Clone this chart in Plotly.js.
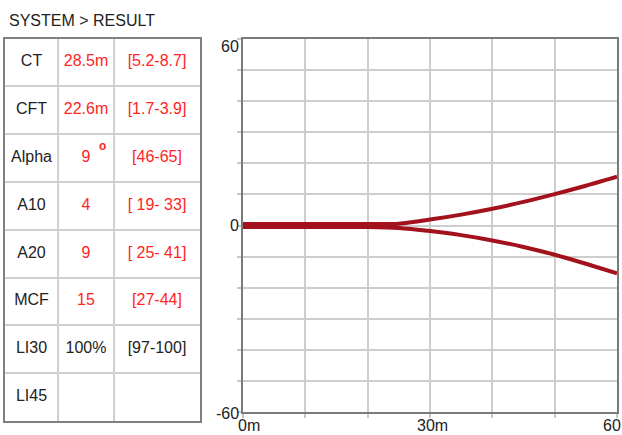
<!DOCTYPE html>
<html><head><meta charset="utf-8">
<script src="https://cdn.plot.ly/plotly-3.0.1.min.js"></script>
<style>html,body{margin:0;padding:0;background:#fff;}#chart{width:622px;height:435px;}</style>
</head><body><div id="chart"></div>
<script>
// ---- data ----
const timeMin  = [0, 5, 10, 15, 20, 25, 30, 35, 40, 45, 50, 55, 60];
const upperAmp = [0.5, 0.5, 0.5, 0.5, 0.5, 0.6, 1.9, 3.5, 5.4, 7.6, 10.1, 12.8, 15.7];
const lowerAmp = [-0.5, -0.5, -0.5, -0.5, -0.5, -0.8, -1.8, -3.1, -4.8, -6.9, -9.4, -12.3, -15.4];

const paramNames  = ['CT', 'CFT', 'Alpha', 'A10', 'A20', 'MCF', 'LI30', 'LI45'];
const paramValues = ['28.5m', '22.6m', '9', '4', '9', '15', '100%', ''];
const refRanges   = ['[5.2-8.7]', '[1.7-3.9]', '[46-65]', '[ 19- 33]', '[ 25- 41]', '[27-44]', '[97-100]', ''];
const outOfRange  = [true, true, true, true, true, true, false, false];

const xTickVals = [0, 30, 60];
const xTickText = ['0m', '30m', '60'];
const yTickVals = [60, 0, -60];
const yTickText = ['60', '0', '-60'];
const titleText = 'SYSTEM > RESULT';

// ---- layout helpers ----
const W = 622, H = 435;
const FONT = '"Liberation Sans", Arial, sans-serif';
const RED = '#ff2424', BLACK = '#222222', CURVE = '#a3121c';
const colWidths = [53, 56, 86];
const colEdges = [0]; colWidths.forEach(w => colEdges.push(colEdges[colEdges.length - 1] + w));
const colCenters = colWidths.map((w, i) => colEdges[i] + w / 2);
const nRows = paramNames.length;

// table cell points
const tx = [], ty = [], tt = [], tc = [];
for (let r = 0; r < nRows; r++) {
  const cells = [paramNames[r], paramValues[r], refRanges[r]];
  cells.forEach((c, ci) => {
    tx.push(colCenters[ci]); ty.push(r + 0.5); tt.push(c);
    tc.push(ci === 0 ? BLACK : (outOfRange[r] ? RED : BLACK));
  });
}

const traces = [
  { x: timeMin, y: upperAmp, type: 'scatter', mode: 'lines', xaxis: 'x', yaxis: 'y',
    line: { color: CURVE, width: 4, shape: 'spline', smoothing: 0.7 }, hoverinfo: 'skip' },
  { x: timeMin, y: lowerAmp, type: 'scatter', mode: 'lines', xaxis: 'x', yaxis: 'y',
    line: { color: CURVE, width: 4, shape: 'spline', smoothing: 0.7 }, hoverinfo: 'skip' },
  { x: tx, y: ty, text: tt, type: 'scatter', mode: 'text', xaxis: 'x2', yaxis: 'y2',
    textposition: 'middle center', textfont: { family: FONT, size: 16, color: tc }, hoverinfo: 'skip' }
];

const annotations = [
  { text: titleText, xref: 'paper', yref: 'paper', x: 7 / W, y: 1 - 21 / H, xanchor: 'left', yanchor: 'middle',
    showarrow: false, font: { family: FONT, size: 16, color: BLACK } },
  // degree mark of Alpha
  { text: '<b>o</b>', xref: 'x2', yref: 'y2', x: colCenters[1], y: paramNames.indexOf('Alpha') + 0.5,
    xshift: 16, yshift: 12, showarrow: false, font: { family: FONT, size: 12, color: RED } }
];
const xShifts = [6, 2, -5];
xTickVals.forEach((v, i) => annotations.push({
  text: xTickText[i], xref: 'x', yref: 'paper', x: v, y: 1 - 425 / H, xanchor: 'center', yanchor: 'middle',
  xshift: xShifts[i], showarrow: false, font: { family: FONT, size: 16, color: BLACK } }));
const yShifts = [-8, 0, -1.5];
yTickVals.forEach((v, i) => annotations.push({
  text: yTickText[i], xref: 'paper', yref: 'y', x: 241 / W, y: v, xanchor: 'right', yanchor: 'middle',
  yshift: yShifts[i], showarrow: false, font: { family: FONT, size: 16, color: BLACK } }));

const layout = {
  width: W, height: H, margin: { l: 0, r: 0, t: 0, b: 0 },
  paper_bgcolor: '#ffffff', plot_bgcolor: '#ffffff', showlegend: false,
  font: { family: FONT, size: 16, color: BLACK },
  xaxis: { domain: [243 / W, 617 / W], range: [0, 60], dtick: 10, tick0: 0, showticklabels: false,
    showgrid: true, gridcolor: '#cdcdcd', gridwidth: 2, zeroline: false,
    showline: true, mirror: true, linecolor: '#7a7a7a', linewidth: 2,
    ticks: 'outside', ticklen: 4, tickcolor: '#c8c8c8', tickwidth: 2, fixedrange: true },
  yaxis: { domain: [1 - 412 / H, 1 - 39 / H], range: [-60, 60], dtick: 10, tick0: 0, showticklabels: false,
    showgrid: true, gridcolor: '#cdcdcd', gridwidth: 2, zeroline: false,
    showline: true, mirror: true, linecolor: '#7a7a7a', linewidth: 2,
    ticks: 'outside', ticklen: 4, tickcolor: '#c8c8c8', tickwidth: 2, fixedrange: true },
  xaxis2: { domain: [5 / W, 200 / W], range: [0, colEdges[colEdges.length - 1]], anchor: 'y2',
    tickvals: colEdges.slice(1, -1), showticklabels: false, ticks: '',
    showgrid: true, gridcolor: '#cfcfcf', gridwidth: 2, zeroline: false,
    showline: true, mirror: true, linecolor: '#7f7f7f', linewidth: 2, fixedrange: true },
  yaxis2: { domain: [1 - 421 / H, 1 - 38.5 / H], range: [nRows, 0], anchor: 'x2',
    tickvals: Array.from({ length: nRows - 1 }, (_, i) => i + 1), showticklabels: false, ticks: '',
    showgrid: true, gridcolor: '#cfcfcf', gridwidth: 2, zeroline: false,
    showline: true, mirror: true, linecolor: '#7f7f7f', linewidth: 2, fixedrange: true },
  annotations: annotations
};

Plotly.newPlot('chart', traces, layout, { displayModeBar: false, staticPlot: true });
</script>
</body></html>
